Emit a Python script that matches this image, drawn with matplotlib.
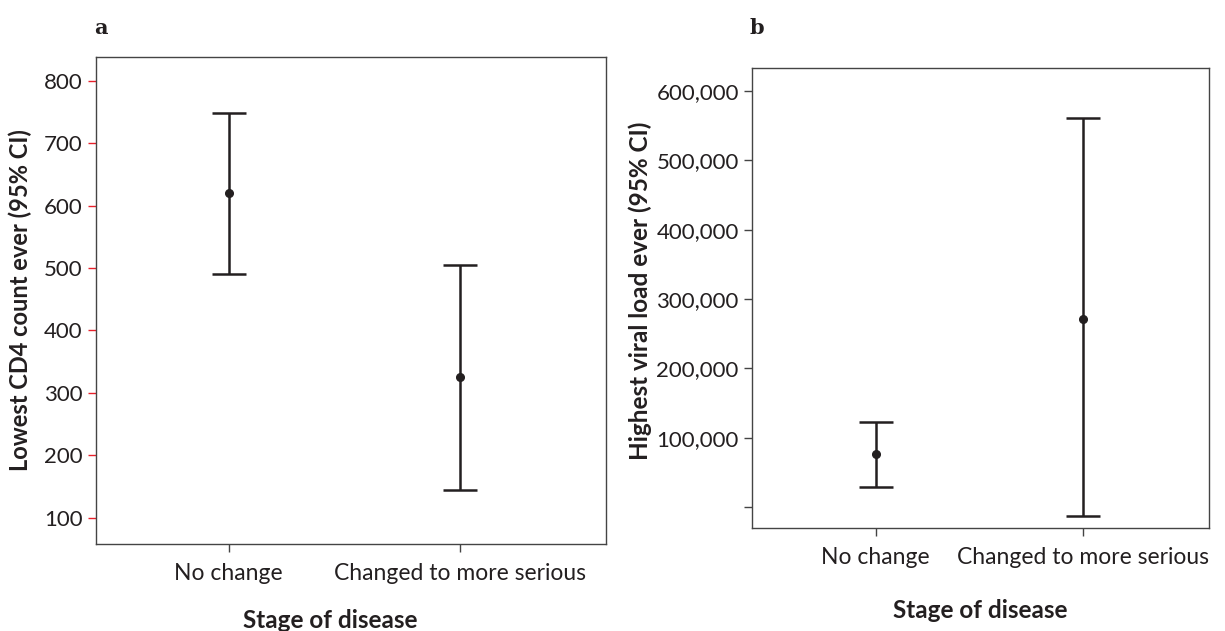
import numpy as np
import matplotlib
matplotlib.use("Agg")
import matplotlib.pyplot as plt
from matplotlib.ticker import FixedLocator

plt.rcParams["font.family"] = ["Lato", "DejaVu Sans"]

categories = ["No change", "Changed to more serious"]

# lowest CD4 count ever: mean and 95% CI
cd4_mean = [620, 325]
cd4_low = [491, 144]
cd4_high = [749, 505]
cd4_ticks = [100, 200, 300, 400, 500, 600, 700, 800]

# highest viral load ever: mean and 95% CI
vl_mean = [76000, 271000]
vl_low = [29000, -13000]
vl_high = [123000, 561000]
vl_ticks = [0, 100000, 200000, 300000, 400000, 500000, 600000]
vl_ticklabels = ["", "100,000", "200,000", "300,000", "400,000", "500,000", "600,000"]

ink = "#231f20"


def ci_plot(ax, mean, low, high):
    x = np.arange(1, len(mean) + 1)
    mean = np.array(mean)
    yerr = [mean - np.array(low), np.array(high) - mean]
    ax.errorbar(x, mean, yerr=yerr, fmt="o", color=ink, ms=5.5, lw=1.8,
                capsize=12, capthick=1.8)
    ax.set_xticks(x)
    ax.set_xticklabels(categories, fontsize=16.5)
    for s in ax.spines.values():
        s.set_color("#444444")
        s.set_linewidth(1.0)
    ax.tick_params(axis="both", direction="out", length=6, width=1.0,
                   color="#444444", labelcolor=ink)
    ax.tick_params(axis="y", labelsize=16)
    ax.tick_params(axis="x", labelsize=16.5, pad=8)


fig = plt.figure(figsize=(12.25, 6.31), dpi=100)

ax1 = fig.add_axes([0.0784, 0.1379, 0.4163, 0.7718])
ci_plot(ax1, cd4_mean, cd4_low, cd4_high)
ax1.set_xlim(0.427, 2.63)
ax1.set_ylim(58, 838)
ax1.yaxis.set_major_locator(FixedLocator(cd4_ticks))
ax1.set_yticklabels([str(t) for t in cd4_ticks])
ax1.tick_params(axis="y", color="#e8202a")
ax1.set_ylabel("Lowest CD4 count ever (95% CI)", fontsize=17, fontweight="bold",
               color=ink)
ax1.yaxis.set_label_coords(-0.125, 0.5)
ax1.set_xlabel("Stage of disease", fontsize=17.5, fontweight="bold", color=ink)
ax1.xaxis.label.set_va("baseline")
ax1.xaxis.set_label_coords(0.459, -0.172)
fig.text(0.077, 0.955, "a", fontsize=15, fontweight="bold", color=ink,
         family=["DejaVu Serif"], ha="left", va="center")

ax2 = fig.add_axes([0.6139, 0.1632, 0.3730, 0.7290])
ci_plot(ax2, vl_mean, vl_low, vl_high)
ax2.set_xlim(0.402, 2.61)
ax2.set_ylim(-30000, 633000)
ax2.yaxis.set_major_locator(FixedLocator(vl_ticks))
ax2.set_yticklabels(vl_ticklabels)
ax2.set_ylabel("Highest viral load ever (95% CI)", fontsize=17.5, fontweight="bold",
               color=ink)
ax2.yaxis.set_label_coords(-0.219, 0.515)
ax2.set_xlabel("Stage of disease", fontsize=17.5, fontweight="bold", color=ink)
ax2.xaxis.label.set_va("baseline")
ax2.xaxis.set_label_coords(0.5, -0.196)
fig.text(0.612, 0.955, "b", fontsize=15, fontweight="bold", color=ink,
         family=["DejaVu Serif"], ha="left", va="center")

fig.savefig("out.png", dpi=100)
